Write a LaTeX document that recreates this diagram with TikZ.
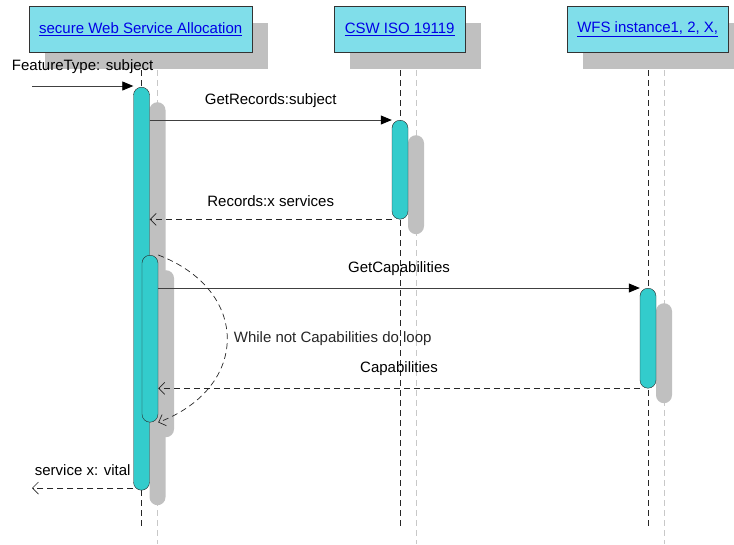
\documentclass[tikz,border=0pt]{standalone}
\usepackage{fontspec}
\setmainfont{Liberation Sans}
\usetikzlibrary{positioning}
\usetikzlibrary{shadows}
\usetikzlibrary{arrows.meta}
\definecolor{boxcyan}{RGB}{128,222,234}
\definecolor{barcyan}{RGB}{51,204,204}
\definecolor{shade}{RGB}{192,192,192}
\definecolor{ghostgrey}{RGB}{200,200,200}
\definecolor{linkblue}{RGB}{0,0,230}
\tikzset{obj/.style={draw=black!80,fill=boxcyan,minimum height=46pt,inner sep=0pt,anchor=north west,general shadow={fill=shade,shadow xshift=16pt,shadow yshift=-17pt}},
	act/.style={draw=black!85,fill=barcyan,minimum width=16pt,inner sep=0pt,rounded corners=8pt,anchor=north,general shadow={fill=shade,shadow xshift=16pt,shadow yshift=-15pt}},
	life/.style={black!85,dash pattern=on 6pt off 4pt},
	ghost/.style={ghostgrey,dash pattern=on 6pt off 4pt},
	call/.style={draw=black!75,line width=0.8pt,-{Triangle[length=11pt,width=9pt,black]}},
	reply/.style={black!85,line width=0.7pt,dash pattern=on 6pt off 4pt,-{Straight Barb[length=6pt,width=12pt]}},
	lbl/.style={above=9pt,text=black}}
\newcommand{\objname}[1]{\textcolor{linkblue}{\underline{#1}}}
\begin{document}
\begin{tikzpicture}[x=1pt,y=-1pt,font=\fontsize{15}{18}\selectfont]
	\useasboundingbox (0,0) rectangle (734,544);
	\node[obj,minimum width=223pt] (swsa) at (29,6) {\objname{secure Web Service Allocation}};
	\node[obj,minimum width=131pt] (csw) at (334,6) {\objname{CSW ISO 19119}};
	\node[obj,minimum width=161pt] (wfs) at (567,6) {\objname{WFS instance1, 2, X,}};
	\foreach \o in {swsa,csw,wfs}{
		\draw[ghost] ([xshift=16pt,yshift=-18pt]\o.south) -- ++(0,474);
		\draw[life] ([xshift=0.5pt,yshift=-18pt]\o.south) -- ++(0,458);
	}
	\node[act,minimum height=403pt] (a1) at (141.5,87) {};
	\node[act,minimum height=167pt] (a1loop) at (150,255) {};
	\node[act,minimum height=99pt] (a2) at (400,120) {};
	\node[act,minimum height=100pt] (a3) at (648,288) {};
	\coordinate (in) at (32,86); \coordinate (out) at (32,488);
	\draw[call] (in) -- node[lbl] (lin) {FeatureType: subject} (in -| a1.west);
	\draw[call] (a1.east |- a2.north) -- node[lbl] (lgr) {GetRecords:subject} (a2.north west);
	\draw[reply] (a2.south west) -- node[lbl] (lrec) {Records:x services} (a1.east |- a2.south);
	\draw[call] (a1loop.east |- a3.north) -- node[lbl] (lgc) {GetCapabilities} (a3.north west);
	\draw[reply] (a3.south west) -- node[lbl] (lcap) {Capabilities} (a1loop.east |- a3.south);
	\draw[reply] (a1loop.north east) .. controls +(92,35) and +(92,-35) .. node[right=3pt] (lloop) {While not Capabilities do loop} (a1loop.south east);
	\draw[reply] (out -| a1.west) -- node[lbl] (lout) {service x: vital} (out);
\end{tikzpicture}
\end{document}
